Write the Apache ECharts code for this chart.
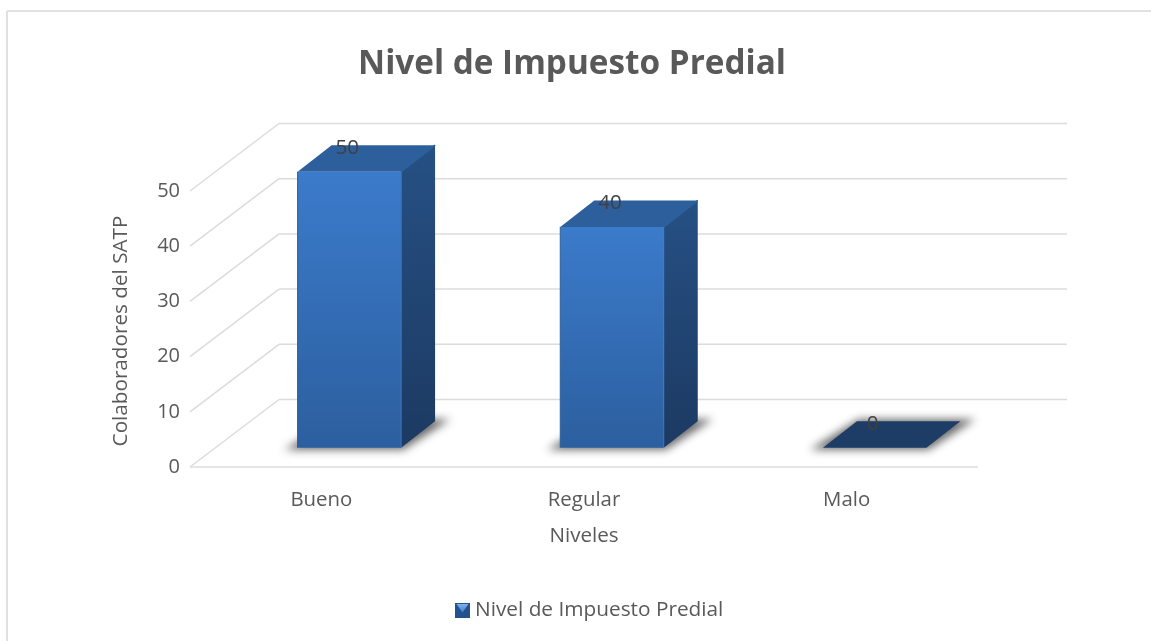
<!DOCTYPE html>
<html><head><meta charset="utf-8">
<style>html,body{margin:0;padding:0;background:#fff}#c{width:1151px;height:641px}</style>
<script src="https://cdn.jsdelivr.net/npm/echarts@6/dist/echarts.min.js"></script>
</head><body><div id="c"></div>
<script>
const categories = ['Bueno', 'Regular', 'Malo'];
const values = [50, 40, 0];
const yTicks = [0, 10, 20, 30, 40, 50];
const seriesName = 'Nivel de Impuesto Predial';
const axisY = 'Colaboradores del SATP';
const axisX = 'Niveles';

const FONT = '"Open Sans","Noto Sans",sans-serif';
const DEPTH = {x: 89, y: -67.5};
const NEAR = {x: 28, y: -19.3};
const BAR_DEPTH = {x: 34, y: -26.5};
const BAR_W = 103.5;
const OFF = 3000;
const grad = (a, b) => ({type: 'linear', x: 0, y: 0, x2: 0, y2: 1, colorStops: [{offset: 0, color: a}, {offset: 1, color: b}]});

const chart = echarts.init(document.getElementById('c'), null, {renderer: 'canvas'});

function renderGrid(params, api) {
  const v = api.value(0);
  const cs = params.coordSys;
  const x0 = cs.x, x1 = cs.x + cs.width, y = api.coord([0, v])[1];
  const style = {stroke: '#dcdcdc', lineWidth: 1.5, fill: null};
  const children = [
    {type: 'line', shape: {x1: x0, y1: y, x2: x0 + DEPTH.x, y2: y + DEPTH.y}, style},
    {type: 'line', shape: {x1: x0 + DEPTH.x, y1: y + DEPTH.y, x2: x1 + DEPTH.x, y2: y + DEPTH.y}, style}
  ];
  if (v === 0) children.push({type: 'line', shape: {x1: x0, y1: y, x2: x1, y2: y}, style});
  return {type: 'group', children};
}

function renderBar(params, api) {
  const i = api.value(0), v = api.value(1);
  const base = api.coord([i, 0]), top = api.coord([i, v]);
  const L = base[0] - BAR_W / 2 + NEAR.x, R = L + BAR_W;
  const yb = base[1] + NEAR.y, yt = top[1] + NEAR.y;
  const dx = BAR_DEPTH.x, dy = BAR_DEPTH.y;
  const flat = v === 0;
  const shadow = {
    type: 'polygon',
    shape: {points: [[L - 13 - OFF, yb + 2], [R + 2 - OFF, yb + 2], [R + dx + 15 - OFF, yb + dy - 2], [L + dx + 2 - OFF, yb + dy - 2]]},
    style: {fill: '#555', shadowBlur: 9, shadowColor: 'rgba(90,90,90,0.9)', shadowOffsetX: OFF}
  };
  const children = [shadow];
  if (!flat) {
    children.push({type: 'polygon', shape: {points: [[R, yb], [R + dx, yb + dy], [R + dx, yt + dy], [R, yt]]},
      style: {fill: grad('#265084', '#1c3a62')}});
    children.push({type: 'polygon', shape: {points: [[L, yt], [R, yt], [R, yb], [L, yb]]},
      style: {fill: grad('#3b7bcb', '#2c5f9f')}});
    children.push({type: 'line', shape: {x1: R, y1: yt, x2: R + dx, y2: yt + dy}, style: {stroke: '#2a639f', lineWidth: 1.5}});
    children.push({type: 'line', shape: {x1: R, y1: yt, x2: R, y2: yb}, style: {stroke: '#3a76bd', lineWidth: 1}});
    children.push({type: 'line', shape: {x1: L, y1: yt, x2: L, y2: yb}, style: {stroke: '#2f5f9c', lineWidth: 1}});
  }
  children.push({type: 'polygon', shape: {points: [[L, yt], [R, yt], [R + dx, yt + dy], [L + dx, yt + dy]]},
    style: {fill: flat ? '#1d3c66' : '#2c5f9c'}});
  children.push({type: 'text', style: {
    text: String(v), x: (L + R) / 2 - 2, y: yt + dy + 3, align: 'center', verticalAlign: 'middle',
    font: '20.6px ' + FONT, fill: '#404040'}});
  return {type: 'group', children};
}

chart.setOption({
  animation: false,
  backgroundColor: '#fff',
  title: {text: seriesName, left: 567, top: 43, textAlign: 'center',
    textStyle: {fontFamily: FONT, fontSize: 33.3, fontWeight: 'bold', color: '#595959'}},
  legend: {
    data: [{name: seriesName, icon: 'rect'}],
    left: 450, top: 595, itemWidth: 15, itemHeight: 15, itemGap: 6,
    textStyle: {fontFamily: FONT, fontSize: 20.8, color: '#595959'}
  },
  grid: {left: 190, right: 173, top: 191, bottom: 174},
  xAxis: {
    type: 'category', data: categories,
    axisLine: {show: false}, axisTick: {show: false},
    axisLabel: {fontFamily: FONT, fontSize: 20.4, color: '#595959', margin: 23},
    name: axisX, nameLocation: 'middle', nameGap: 59,
    nameTextStyle: {fontFamily: FONT, fontSize: 20.6, color: '#595959'}
  },
  yAxis: {
    type: 'value', min: 0, max: 50, interval: 10,
    axisLine: {show: false}, axisTick: {show: false}, splitLine: {show: false},
    axisLabel: {fontFamily: FONT, fontSize: 20, color: '#595959', margin: 10},
    name: axisY, nameLocation: 'middle', nameGap: 58, nameRotate: 90,
    nameTextStyle: {fontFamily: FONT, fontSize: 20.7, color: '#595959', padding: [0, 4, 0, 0]}
  },
  graphic: [
    {type: 'line', shape: {x1: 7, y1: 11, x2: 1151, y2: 11}, style: {stroke: '#e0e0e0', lineWidth: 2}, silent: true},
    {type: 'line', shape: {x1: 7, y1: 11, x2: 7, y2: 641}, style: {stroke: '#e0e0e0', lineWidth: 2}, silent: true},
    {type: 'polygon', shape: {points: [[456.5, 604], [468.5, 604], [462.5, 612.5]]},
     style: {fill: grad('#7fb2ee', '#3f80d2')}, silent: true, z: 100}
  ],
  series: [
    {type: 'custom', name: 'wall', silent: true, z: 1, renderItem: renderGrid,
     data: yTicks.map(t => [t]), encode: {y: 0}, tooltip: {show: false}},
    {type: 'custom', name: seriesName, z: 2, renderItem: renderBar,
     itemStyle: {color: '#24528c'},
     data: values.map((v, i) => [i, v]), encode: {x: 0, y: 1}}
  ]
});
</script></body></html>
